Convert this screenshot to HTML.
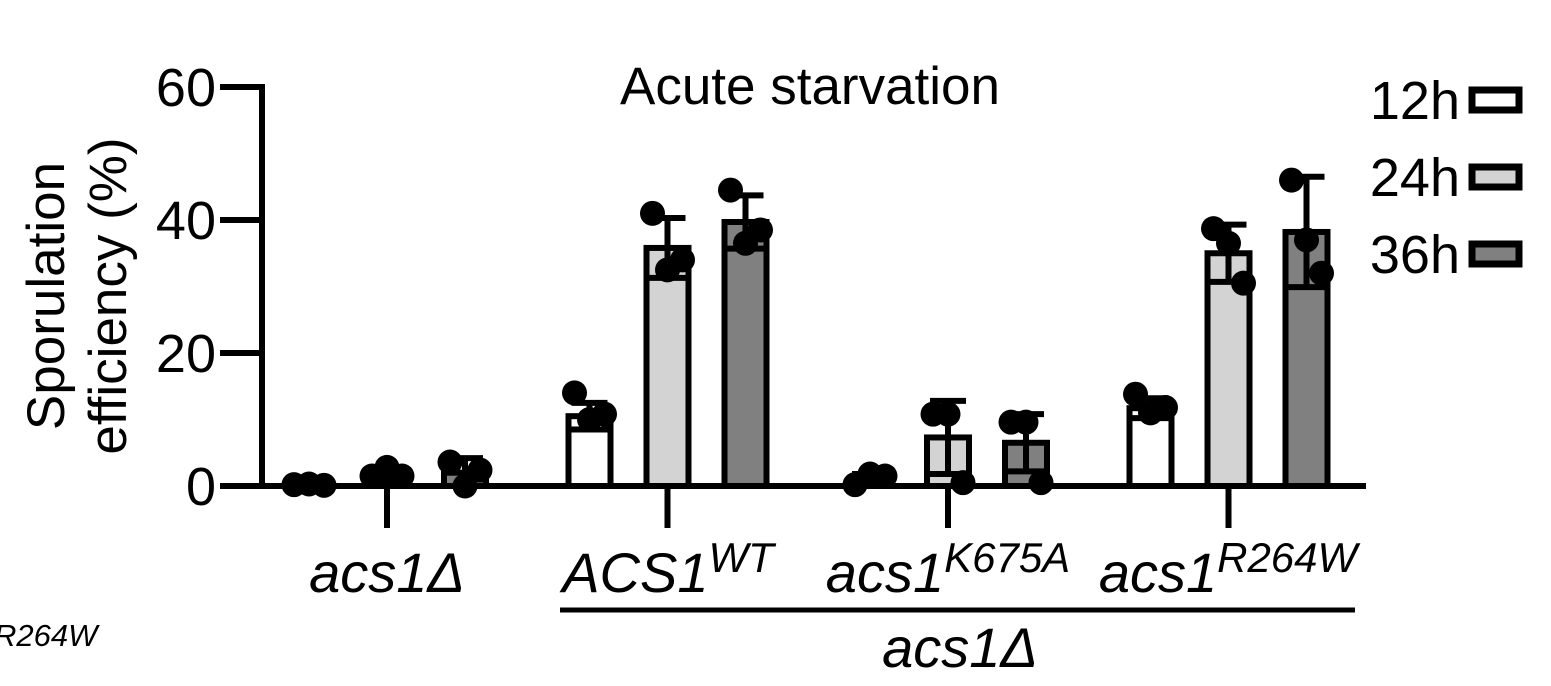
<!DOCTYPE html>
<html><head><meta charset="utf-8"><style>
body{margin:0;background:#fff;}
svg{display:block;font-family:"Liberation Sans",Arial,sans-serif;}
</style></head><body>
<svg id="c" width="1551" height="686" viewBox="0 0 1551 686">
<text x="810" y="104" font-size="53" text-anchor="middle">Acute starvation</text>
<g transform="translate(64,296) rotate(-90)">
<text x="0" y="0" font-size="53" text-anchor="middle">Sporulation</text>
<text x="0" y="62" font-size="53" text-anchor="middle">efficiency (%)</text>
</g>
<g id="axes"></g><g id="bars"></g>
<g font-style="italic" font-size="56" text-anchor="middle">
<text x="387" y="592">acs1Δ</text>
<text x="668" y="592">ACS1<tspan dy="-20" font-size="42">WT</tspan></text>
<text x="948" y="592">acs1<tspan dy="-20" font-size="42">K675A</tspan></text>
<text x="1228" y="592">acs1<tspan dy="-20" font-size="42">R264W</tspan></text>
<text x="960" y="667">acs1Δ</text>
</g>
<line x1="560" y1="610" x2="1355" y2="610" stroke="#000" stroke-width="5"/>
<text x="-6" y="646" font-size="31" font-style="italic">R264W</text>
<g id="legend" font-size="54"></g>
</svg>
<script>
const categories=["acs1Δ","ACS1WT","acs1K675A","acs1R264W"];
const seriesNames=["12h","24h","36h"];
const seriesColors=["#ffffff","#d3d3d3","#808080"];
const means12=[0.2,10.5,1.0,11.7];
const means24=[1.5,35.8,7.3,35.0];
const means36=[2.0,39.7,6.5,38.2];
const sd12=[0.1,2.0,0.8,1.5];
const sd24=[0.8,4.5,5.5,4.3];
const sd36=[2.2,4.0,4.3,8.3];
const pts12=[[0.2,0.3,0.1],[14,10,10.8],[0.2,1.8,1.5],[13.8,11,11.8]];
const pts24=[[1.5,2.8,1.5],[41,32.5,34],[10.8,10.8,0.5],[38.7,36.5,30.5]];
const pts36=[[3.6,0,2.4],[44.5,36.5,38.5],[9.6,9.6,0.5],[46,37,32]];
const yTicks=[0,20,40,60];
const NS="http://www.w3.org/2000/svg";
const y=v=>486-v*(399/60);
const gx=i=>387+i*280.5;
const bx=(i,s)=>gx(i)+(s-1)*78;
function el(t,a,p){const e=document.createElementNS(NS,t);for(const k in a)e.setAttribute(k,a[k]);p.appendChild(e);return e;}
const axes=document.getElementById('axes'),bars=document.getElementById('bars'),lg=document.getElementById('legend');
let e=el('line',{x1:262,y1:y(0),x2:262,y2:y(60)-3,stroke:'#000','stroke-width':6},axes);


e=el('line',{x1:259,y1:y(0),x2:1366,y2:y(0),stroke:'#000','stroke-width':6},axes);


yTicks.forEach(t=>{
 let l=el('line',{x1:220,y1:y(t),x2:262,y2:y(t),stroke:'#000','stroke-width':6},axes);
 
 
 let tx=el('text',{x:216,y:y(t)+19,'font-size':54,'text-anchor':'end'},axes);tx.textContent=t;
 
 
});
categories.forEach((c,i)=>{
 let l=el('line',{x1:gx(i),y1:y(0),x2:gx(i),y2:y(0)+42,stroke:'#000','stroke-width':6},axes);
 
 
});
const M=[means12,means24,means36],S=[sd12,sd24,sd36],P=[pts12,pts24,pts36];
categories.forEach((c,i)=>{for(let s=0;s<3;s++){
 const cx=bx(i,s),m=M[s][i],sd=S[s][i],w=42;
 let r=el('rect',{x:cx-w/2,y:y(m),width:w,height:y(0)-y(m),fill:seriesColors[s],stroke:'#000','stroke-width':6},bars);
 
 
 const g=el('g',{},bars);
 
 
 el('line',{x1:cx,y1:y(m+sd),x2:cx,y2:y(Math.max(0,m-sd)),stroke:'#000','stroke-width':6},g);
 el('line',{x1:cx-18,y1:y(m+sd),x2:cx+18,y2:y(m+sd),stroke:'#000','stroke-width':6},g);
 el('line',{x1:cx-18,y1:y(Math.max(0,m-sd)),x2:cx+18,y2:y(Math.max(0,m-sd)),stroke:'#000','stroke-width':6},g);
 P[s][i].forEach((v,k)=>{
  let d=el('circle',{cx:cx+(k-1)*15,cy:y(v),r:12.5,fill:'#000'},bars);
  
  
 });
}});
seriesNames.forEach((n,s)=>{
 const yy=100+s*77;
 let t=el('text',{x:1460,y:yy+19,'text-anchor':'end'},lg);t.textContent=n;
 
 
 let r=el('rect',{x:1472,y:yy-10,width:47,height:20,fill:seriesColors[s],stroke:'#000','stroke-width':7},lg);
 
 
});
</script>
</body></html>
